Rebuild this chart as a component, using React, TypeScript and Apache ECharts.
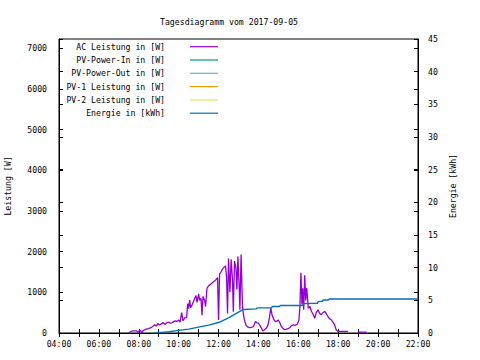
import React, { useEffect, useRef } from "react";
import * as echarts from "echarts";

const titleText = "Tagesdiagramm vom 2017-09-05";
const seriesNames = [
  "AC Leistung in [W]",
  "PV-Power-In in [W]",
  "PV-Power-Out in [W]",
  "PV-1 Leistung in [W]",
  "PV-2 Leistung in [W]",
  "Energie in [kWh]",
];
const seriesColors = ["#9400d3", "#009e73", "#56b4e9", "#e69f00", "#f0e442", "#0072b2"];

const acHours = [
  7.52, 7.6, 7.75, 7.9, 7.97, 8.03, 8.1, 8.15, 8.22, 8.3, 8.4, 8.5, 8.6, 8.7, 8.8, 8.88, 8.95,
  9.05, 9.15, 9.22, 9.3, 9.4, 9.5, 9.58, 9.66, 9.75, 9.83, 9.9, 10.0, 10.07, 10.15, 10.22, 10.3,
  10.4, 10.45, 10.5, 10.55, 10.6, 10.68, 10.75, 10.8, 10.87, 10.92, 11.0, 11.05, 11.12, 11.17,
  11.22, 11.3, 11.35, 11.42, 11.48, 11.55, 11.65, 11.75, 11.85, 11.95, 12.0, 12.05, 12.12, 12.2,
  12.28, 12.35, 12.4, 12.45, 12.5, 12.57, 12.63, 12.7, 12.74, 12.8, 12.87, 12.92, 12.97, 13.03,
  13.07, 13.13, 13.2, 13.25, 13.3, 13.37, 13.45, 13.55, 13.65, 13.75, 13.85, 13.93, 14.0, 14.08,
  14.15, 14.22, 14.3, 14.4, 14.48, 14.55, 14.62, 14.68, 14.75, 14.85, 14.95, 15.0, 15.08, 15.15,
  15.25, 15.32, 15.45, 15.57, 15.65, 15.75, 15.85, 15.95, 16.03, 16.08, 16.13, 16.18, 16.22,
  16.27, 16.32, 16.37, 16.42, 16.5, 16.58, 16.66, 16.74, 16.82, 16.9, 16.99, 17.07, 17.15, 17.23,
  17.32, 17.4, 17.49, 17.57, 17.66, 17.74, 17.82, 17.9, 17.98, 18.07, 18.3, 18.5, 18.58, 18.9,
  19.0, 19.2, 19.43,
];
const acWatts: (number | null)[] = [
  0, 40, 50, 50, 0, 60, 60, 0, 60, 80, 100, 110, 130, 160, 200, 170, 230,
  200, 230, 260, 210, 250, 270, 240, 250, 280, 300, 280, 320, 270, 500, 300, 370,
  380, 720, 600, 810, 620, 700, 780, 850, 920, 750, 960, 800, 850, 440,
  900, 800, 650, 1100, 1150, 1180, 1220, 1260, 1300, 1360, 320, 1450, 1500, 1570,
  1620, 1650, 1380, 480, 1830, 1000, 1810, 1300, 520, 1770, 1600, 1070, 1880, 1200,
  570, 1930, 650, 440, 320, 200, 150, 130, 140, 160, 280, 250, 240, 180,
  120, 50, 80, 120, 200, 370, 610, 450, 350, 280, 300, 320, 240, 160,
  100, 80, 100, 130, 180, 200, 190, 220, 320, 650, 1480, 700, 1100,
  570, 1420, 800, 1110, 610, 650, 530, 460, 360, 500, 570, 480, 450, 500,
  530, 480, 400, 350, 320, 260, 200, 75, 40, 40, 40, 40, null, null,
  20, 20, 20,
];

const energyHours = [
  8.75, 9.0, 9.5, 10.0, 10.5, 11.0, 11.5, 12.0, 12.5, 13.0, 13.25, 13.9, 13.95, 14.65, 14.7,
  15.05, 15.1, 16.2, 16.3, 16.95, 17.0, 17.2, 17.25, 17.5, 17.55, 22.0,
];
const energyKwh = [
  0, 0.05, 0.2, 0.4, 0.6, 0.9, 1.2, 1.6, 2.3, 3.2, 3.6, 3.7, 3.85, 3.85, 4.05,
  4.05, 4.2, 4.2, 4.5, 4.55, 4.8, 4.85, 5.05, 5.05, 5.2, 5.2,
];

const FONT = '"DejaVu Sans Mono", "Liberation Mono", monospace';
const FS = 8.2;

function pad(n: number) {
  return (n < 10 ? "0" : "") + n;
}

export default function App() {
  const ref = useRef<HTMLDivElement>(null);
  useEffect(() => {
    if (!ref.current) return;
    const chart = echarts.init(ref.current, null, { renderer: "svg" });
    const legendGraphics: any[] = [];
    seriesNames.forEach((name, i) => {
      const y = 46.7 + 13.3 * i;
      legendGraphics.push({
        type: "text",
        x: 165,
        y,
        z: 10,
        style: {
          text: name,
          align: "right",
          verticalAlign: "middle",
          font: `${FS}px ${FONT}`,
          fill: "#000",
        },
      });
      legendGraphics.push({
        type: "line",
        z: 10,
        shape: { x1: 190, y1: y, x2: 218, y2: y },
        style: { stroke: seriesColors[i], lineWidth: 1.2 },
      });
    });

    const tickStyle = { color: "#000", width: 1 };
    const labelStyle = { color: "#000", fontFamily: FONT, fontSize: FS };

    chart.setOption({
      animation: false,
      backgroundColor: "#fff",
      title: {
        text: titleText,
        left: 155,
        top: 13,
        textStyle: { fontFamily: FONT, fontSize: FS, fontWeight: "normal", color: "#000" },
      },
      grid: {
        left: 59,
        right: 62,
        top: 39,
        bottom: 27,
        containLabel: false,
        outerBoundsMode: "none",
        show: true,
        borderColor: "#000",
        borderWidth: 1,
        backgroundColor: "transparent",
      },
      graphic: legendGraphics,
      xAxis: [
        {
          type: "value",
          min: 4,
          max: 22,
          interval: 2,
          position: "bottom",
          axisLine: { show: true, lineStyle: { color: "#000" } },
          axisTick: { show: true, inside: true, length: 4, lineStyle: tickStyle },
          minorTick: { show: true, splitNumber: 2, length: 4, lineStyle: tickStyle },
          splitLine: { show: false },
          axisLabel: {
            ...labelStyle,
            margin: 7,
            formatter: (v: number) => pad(v) + ":00",
          },
        },
        {
          type: "value",
          min: 4,
          max: 22,
          interval: 2,
          position: "top",
          axisLine: { show: false },
          axisTick: { show: true, inside: true, length: 4, lineStyle: tickStyle },
          minorTick: { show: true, splitNumber: 2, length: 4, lineStyle: tickStyle },
          splitLine: { show: false },
          axisLabel: { show: false },
        },
      ],
      yAxis: [
        {
          type: "value",
          min: 0,
          max: 7230,
          interval: 1000,
          position: "left",
          name: "Leistung [W]",
          nameLocation: "middle",
          nameGap: 47,
          nameTextStyle: labelStyle,
          axisLine: { show: true, lineStyle: { color: "#000" } },
          axisTick: { show: true, inside: true, length: 4, lineStyle: tickStyle },
          splitLine: { show: false },
          axisLabel: {
            ...labelStyle,
            margin: 12,
            showMaxLabel: false,
            formatter: (v: number) => String(v),
          },
        },
        {
          type: "value",
          min: 0,
          max: 45,
          interval: 5,
          position: "right",
          name: "Energie [kWh]",
          nameLocation: "middle",
          nameGap: 30,
          nameTextStyle: labelStyle,
          axisLine: { show: true, lineStyle: { color: "#000" } },
          axisTick: { show: true, inside: true, length: 4, lineStyle: tickStyle },
          splitLine: { show: false },
          axisLabel: { ...labelStyle, margin: 10, formatter: (v: number) => String(v) },
        },
        {
          type: "value",
          min: 0,
          max: 7230,
          interval: 1000,
          position: "right",
          axisLine: { show: false },
          axisTick: { show: true, inside: true, length: 4, lineStyle: tickStyle },
          splitLine: { show: false },
          axisLabel: { show: false },
        },
        {
          type: "value",
          min: 0,
          max: 45,
          interval: 5,
          position: "left",
          axisLine: { show: false },
          axisTick: { show: true, inside: true, length: 4, lineStyle: tickStyle },
          splitLine: { show: false },
          axisLabel: { show: false },
        },
      ],
      series: [
        {
          name: seriesNames[0],
          type: "line",
          xAxisIndex: 0,
          yAxisIndex: 0,
          showSymbol: false,
          connectNulls: false,
          lineStyle: { color: seriesColors[0], width: 1.3 },
          itemStyle: { color: seriesColors[0] },
          data: acHours.map((h, i) => [h, acWatts[i]]),
          z: 3,
        },
        ...[1, 2, 3, 4].map((i) => ({
          name: seriesNames[i],
          type: "line",
          xAxisIndex: 0,
          yAxisIndex: 0,
          showSymbol: false,
          lineStyle: { color: seriesColors[i], width: 1 },
          itemStyle: { color: seriesColors[i] },
          data: [],
        })),
        {
          name: seriesNames[5],
          type: "line",
          xAxisIndex: 0,
          yAxisIndex: 1,
          showSymbol: false,
          lineStyle: { color: seriesColors[5], width: 1.4 },
          itemStyle: { color: seriesColors[5] },
          data: energyHours.map((h, i) => [h, energyKwh[i]]),
          z: 4,
        },
      ],
    });
    return () => chart.dispose();
  }, []);
  return (
    <div
      ref={ref}
      style={{ position: "absolute", left: 0, top: 0, width: 480, height: 360 }}
    />
  );
}
